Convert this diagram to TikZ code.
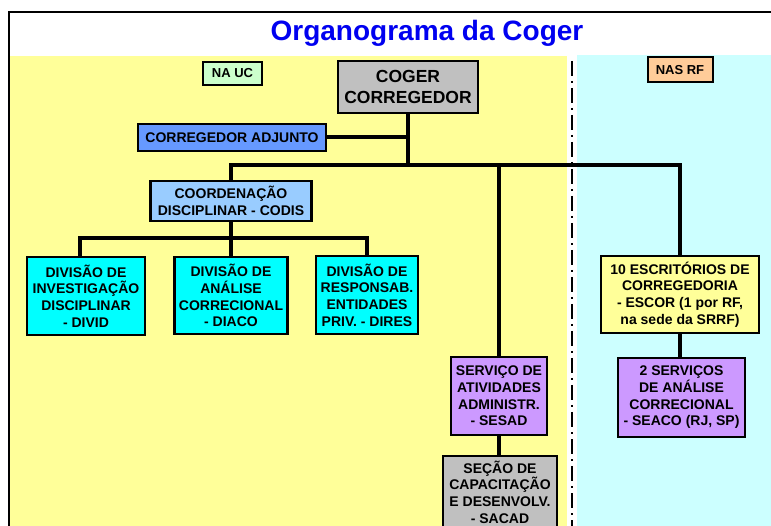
\documentclass[tikz,border=0pt]{standalone}
\usepackage{fontspec}
\setmainfont{Liberation Sans}
\usepackage{tikz}

\definecolor{ucyellow}{HTML}{FFFF99}
\definecolor{rfcyan}{HTML}{CCFFFF}
\definecolor{titleblue}{RGB}{0,0,240}
\definecolor{adjblue}{HTML}{6699FF}
\definecolor{codisblue}{HTML}{99CCFF}
\definecolor{divcyan}{HTML}{00FFFF}
\definecolor{servpurple}{HTML}{CC99FF}
\definecolor{boxgray}{HTML}{C0C0C0}
\definecolor{tagorange}{HTML}{FFCC99}
\definecolor{taggreen}{HTML}{CCFFCC}

\begin{document}
\begin{tikzpicture}[x=1pt,y=-1pt,
    orgbox/.style={draw=black,line width=2.2pt,align=center,inner sep=1pt,
        font=\bfseries\fontsize{14}{16.7}\selectfont},
    tagbox/.style={draw=black,line width=2pt,inner sep=1pt,
        font=\bfseries\fontsize{13}{15}\selectfont},
    conn/.style={line width=4pt,line join=miter}]

            \useasboundingbox (0,0) rectangle (771,526);
            \fill[white] (0,0) rectangle (771,526);
             %areas
                 \fill[ucyellow] (10,56) rectangle (567,530);
                 \fill[rfcyan] (577,55) rectangle (775,530);
                 \draw[line width=2pt,dash pattern=on 15pt off 5pt on 2pt off 5pt] (572,61) -- (572,530);
                 \draw[line width=2.6pt] (9,530) -- (9,12) -- (775,12);
                 \node (title) at (427,33) {\bfseries\fontsize{28}{32}\selectfont\color{titleblue}Organograma da Coger};

             %tags
                 \node[tagbox,fill=taggreen,minimum width=59,minimum height=23] (nauc) at (232.5,73.5) {NA UC};
                 \node[tagbox,fill=tagorange,minimum width=65,minimum height=25] (nasrf) at (680,70) {NAS RF};

             %boxes
                 \node[orgbox,fill=boxgray,minimum width=140,minimum height=52,
                     font=\bfseries\fontsize{17.5}{20.5}\selectfont] (coger) at (408,87) {COGER\\CORREGEDOR};
                 \node[orgbox,fill=adjblue,minimum width=188,minimum height=27] (adj) at (232,137.5) {CORREGEDOR ADJUNTO};
                 \node[orgbox,fill=codisblue,minimum width=161,minimum height=40] (codis) at (231,201) {COORDENAÇÃO\\DISCIPLINAR - CODIS};
                 \node[orgbox,fill=divcyan,minimum width=118,minimum height=78] (divid) at (86,296) {DIVISÃO DE\\INVESTIGAÇÃO\\DISCIPLINAR\\- DIVID};
                 \node[orgbox,fill=divcyan,minimum width=113,minimum height=77] (diaco) at (231,295.5) {DIVISÃO DE\\ANÁLISE\\CORRECIONAL\\- DIACO};
                 \node[orgbox,fill=divcyan,minimum width=102,minimum height=78] (dires) at (367,295) {DIVISÃO DE\\RESPONSAB.\\ENTIDADES\\PRIV. - DIRES};
                 \node[orgbox,fill=servpurple,minimum width=96,minimum height=78] (sesad) at (499,396) {SERVIÇO DE\\ATIVIDADES\\ADMINISTR.\\- SESAD};
                 \node[orgbox,fill=boxgray,minimum width=114,minimum height=72] (sacad) at (500,492) {SEÇÃO DE\\CAPACITAÇÃO\\E DESENVOLV.\\- SACAD};
                 \node[orgbox,fill=ucyellow,minimum width=158,minimum height=77] (escor) at (680,294.5) {10 ESCRITÓRIOS DE\\CORREGEDORIA\\- ESCOR (1 por RF,\\na sede da SRRF)};
                 \node[orgbox,fill=servpurple,minimum width=127,minimum height=79] (seaco) at (681.5,397.5) {2 SERVIÇOS\\DE ANÁLISE\\CORRECIONAL\\- SEACO (RJ, SP)};

             %lines
                 \coordinate (bus) at (408,165);
                 \coordinate (sub) at (231,238);
                 \draw[conn] (coger.south) -- (bus);
                 \draw[conn] (adj.east) -- (adj.east -| bus);
                 \draw[conn] (codis.north) |- (escor.north |- bus) -- (escor.north);
                 \draw[conn] (sesad.north |- bus) -- (sesad.north);
                 \draw[conn] (codis.south) -- (diaco.north);
                 \draw[conn] ([xshift=-6]divid.north) |- (sub) -| (dires.north);
                 \draw[conn] (sesad.south) -- (sesad.south |- sacad.north);
                 \draw[conn] (escor.south) -- (escor.south |- seaco.north);
\end{tikzpicture}
\end{document}
